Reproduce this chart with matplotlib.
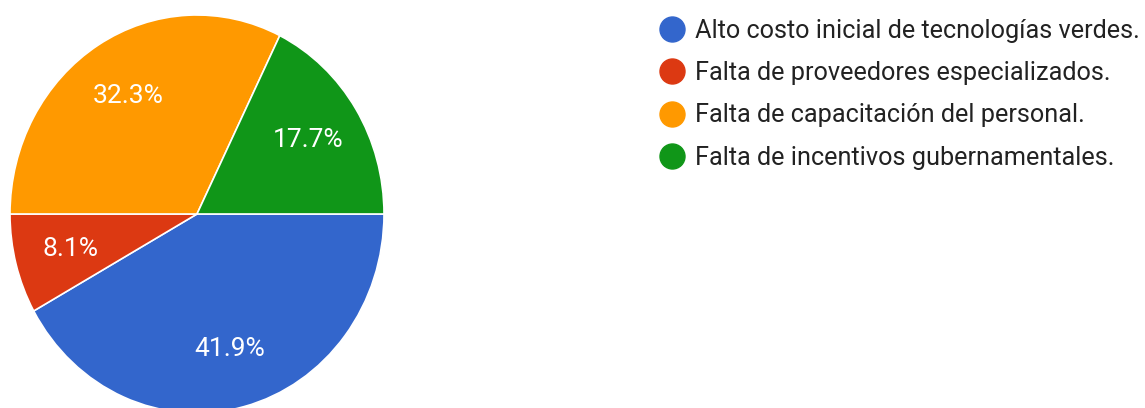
import matplotlib
matplotlib.use("Agg")
import matplotlib.pyplot as plt
from matplotlib.lines import Line2D

# Survey answers (percent of responses)
labels = [
    "Alto costo inicial de tecnologías verdes.",
    "Falta de proveedores especializados.",
    "Falta de capacitación del personal.",
    "Falta de incentivos gubernamentales.",
]
shares = [41.9, 8.1, 32.3, 17.7]
colors = ["#3366cc", "#dc3912", "#ff9900", "#109618"]

W, H = 1145, 408
fig = plt.figure(figsize=(W / 100, H / 100), dpi=100)

# pie is slightly taller than wide in the reference, so let the aspect float
ax = fig.add_axes([10 / W, -5 / H, 374 / W, 398 / H])
wedges, texts, autotexts = ax.pie(
    shares, colors=colors, startangle=0, counterclock=False,
    autopct="%.1f%%", pctdistance=0.7,
    wedgeprops=dict(edgecolor="white", linewidth=1.2),
    textprops=dict(color="white", fontsize=19, family="Roboto"),
)
ax.set_aspect("auto")
ax.set_xlim(-1, 1)
ax.set_ylim(-1, 1)

handles = [Line2D([], [], linestyle="none", marker="o", markersize=18,
                  markerfacecolor=c, markeredgecolor=c) for c in colors]
fig.legend(handles, labels, loc="upper left",
           bbox_to_anchor=(659.5 / W, 1 - 19 / H),
           frameon=False, borderpad=0, borderaxespad=0,
           handlelength=1.0, handletextpad=0.42, labelspacing=0.72,
           prop=dict(family="Roboto", size=18.2), labelcolor="#222222")

fig.savefig("out.png", dpi=100)
